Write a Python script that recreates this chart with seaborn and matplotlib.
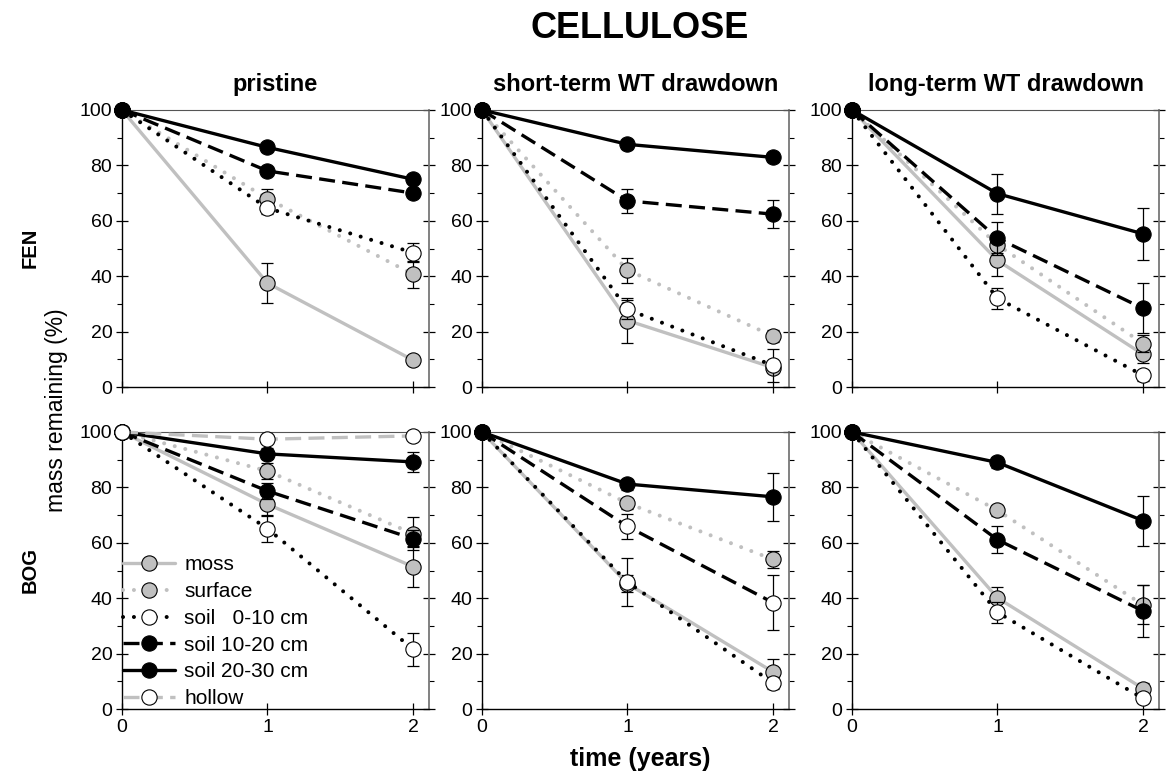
import numpy as np
import pandas as pd
import matplotlib
matplotlib.use("Agg")
import matplotlib.pyplot as plt
from matplotlib.lines import Line2D
from matplotlib.ticker import MultipleLocator
import seaborn as sns

# ---------------- data ----------------
years = [0, 1, 2]
series_names = ["moss", "surface", "soil   0-10 cm", "soil 10-20 cm", "soil 20-30 cm", "hollow"]
site_names = ["FEN", "BOG"]
treatments = ["pristine", "short-term WT drawdown", "long-term WT drawdown"]

# FEN pristine
fen_pri_moss = [100, 37.5, 9.7];    fen_pri_moss_se = [0, 7.2, 1.5]
fen_pri_surf = [100, 68.0, 40.7];   fen_pri_surf_se = [0, 3.3, 4.8]
fen_pri_s010 = [100, 64.6, 48.5];   fen_pri_s010_se = [0, 2.0, 3.5]
fen_pri_s1020 = [100, 78.0, 70.0];  fen_pri_s1020_se = [0, 1.5, 1.5]
fen_pri_s2030 = [100, 86.5, 75.0];  fen_pri_s2030_se = [0, 1.5, 1.5]
# FEN short-term drawdown
fen_st_moss = [100, 24.0, 7.0];     fen_st_moss_se = [0, 8.0, 2.0]
fen_st_surf = [100, 42.2, 18.4];    fen_st_surf_se = [0, 4.5, 2.0]
fen_st_s010 = [100, 28.0, 7.8];     fen_st_s010_se = [0, 3.3, 6.0]
fen_st_s1020 = [100, 67.2, 62.4];   fen_st_s1020_se = [0, 4.3, 5.0]
fen_st_s2030 = [100, 87.6, 82.9];   fen_st_s2030_se = [0, 1.5, 1.5]
# FEN long-term drawdown
fen_lt_moss = [100, 45.7, 11.8];    fen_lt_moss_se = [0, 5.5, 3.0]
fen_lt_surf = [100, 51.3, 15.7];    fen_lt_surf_se = [0, 3.0, 3.0]
fen_lt_s010 = [100, 32.0, 4.2];     fen_lt_s010_se = [0, 3.7, 2.0]
fen_lt_s1020 = [100, 53.7, 28.4];   fen_lt_s1020_se = [0, 6.0, 9.0]
fen_lt_s2030 = [100, 69.8, 55.3];   fen_lt_s2030_se = [0, 7.2, 9.4]
# BOG pristine
bog_pri_moss = [100, 73.9, 51.4];   bog_pri_moss_se = [0, 4.0, 7.3]
bog_pri_surf = [100, 85.9, 63.3];   bog_pri_surf_se = [0, 3.0, 6.0]
bog_pri_s010 = [100, 65.1, 21.6];   bog_pri_s010_se = [0, 4.7, 6.0]
bog_pri_s1020 = [100, 78.7, 61.5];  bog_pri_s1020_se = [0, 3.0, 3.0]
bog_pri_s2030 = [100, 92.1, 89.2];  bog_pri_s2030_se = [0, 2.0, 3.5]
bog_pri_hollow = [100, 97.4, 98.6]; bog_pri_hollow_se = [0, 1.0, 1.0]
# BOG short-term drawdown
bog_st_moss = [100, 45.2, 13.4];    bog_st_moss_se = [0, 3.0, 4.8]
bog_st_surf = [100, 74.3, 54.0];    bog_st_surf_se = [0, 2.0, 3.0]
bog_st_s010 = [100, 45.8, 9.4];     bog_st_s010_se = [0, 8.6, 2.0]
bog_st_s1020 = [100, 65.9, 38.4];   bog_st_s1020_se = [0, 4.6, 9.8]
bog_st_s2030 = [100, 81.2, 76.6];   bog_st_s2030_se = [0, 2.0, 8.7]
# BOG long-term drawdown
bog_lt_moss = [100, 40.1, 7.4];     bog_lt_moss_se = [0, 4.0, 2.0]
bog_lt_surf = [100, 71.7, 37.6];    bog_lt_surf_se = [0, 2.0, 7.0]
bog_lt_s010 = [100, 34.9, 3.8];     bog_lt_s010_se = [0, 3.7, 1.5]
bog_lt_s1020 = [100, 61.1, 35.4];   bog_lt_s1020_se = [0, 4.8, 9.3]
bog_lt_s2030 = [100, 89.0, 68.0];   bog_lt_s2030_se = [0, 2.0, 9.0]

panels = {
    (0, 0): [fen_pri_moss, fen_pri_surf, fen_pri_s010, fen_pri_s1020, fen_pri_s2030, None],
    (0, 1): [fen_st_moss, fen_st_surf, fen_st_s010, fen_st_s1020, fen_st_s2030, None],
    (0, 2): [fen_lt_moss, fen_lt_surf, fen_lt_s010, fen_lt_s1020, fen_lt_s2030, None],
    (1, 0): [bog_pri_moss, bog_pri_surf, bog_pri_s010, bog_pri_s1020, bog_pri_s2030, bog_pri_hollow],
    (1, 1): [bog_st_moss, bog_st_surf, bog_st_s010, bog_st_s1020, bog_st_s2030, None],
    (1, 2): [bog_lt_moss, bog_lt_surf, bog_lt_s010, bog_lt_s1020, bog_lt_s2030, None],
}
panels_se = {
    (0, 0): [fen_pri_moss_se, fen_pri_surf_se, fen_pri_s010_se, fen_pri_s1020_se, fen_pri_s2030_se, None],
    (0, 1): [fen_st_moss_se, fen_st_surf_se, fen_st_s010_se, fen_st_s1020_se, fen_st_s2030_se, None],
    (0, 2): [fen_lt_moss_se, fen_lt_surf_se, fen_lt_s010_se, fen_lt_s1020_se, fen_lt_s2030_se, None],
    (1, 0): [bog_pri_moss_se, bog_pri_surf_se, bog_pri_s010_se, bog_pri_s1020_se, bog_pri_s2030_se, bog_pri_hollow_se],
    (1, 1): [bog_st_moss_se, bog_st_surf_se, bog_st_s010_se, bog_st_s1020_se, bog_st_s2030_se, None],
    (1, 2): [bog_lt_moss_se, bog_lt_surf_se, bog_lt_s010_se, bog_lt_s1020_se, bog_lt_s2030_se, None],
}

# ---------------- styles ----------------
GRAY = "#c0c0c0"
LW = 2.4
DOT = dict(dashes=(0.01, 2.7), dash_capstyle="round", linewidth=2.9)
DASH = dict(dashes=(4.8, 2.2), dash_capstyle="butt", linewidth=LW)
SOLID = dict(linestyle="-", linewidth=LW)
styles = [
    dict(color=GRAY, fill=GRAY, ls=SOLID),
    dict(color=GRAY, fill=GRAY, ls=DOT),
    dict(color="black", fill="white", ls=DOT),
    dict(color="black", fill="black", ls=DASH),
    dict(color="black", fill="black", ls=SOLID),
    dict(color=GRAY, fill="white", ls=DASH),
]
fill_override = {((1, 1), 3): "white"}

sns.set_theme(style="ticks")
plt.rcParams["font.family"] = ["Liberation Sans", "DejaVu Sans"]
for key in ["text.color", "axes.labelcolor", "xtick.color", "ytick.color", "axes.edgecolor"]:
    plt.rcParams[key] = "black"

W, H = 1168, 778
fig = plt.figure(figsize=(W / 100, H / 100), dpi=100)

col_left = [122, 482, 852]
row_top = [110, 432]
ax_w, ax_h = 307, 277

FS = 14
for (r, c), series in panels.items():
    l = col_left[c]
    t = row_top[r]
    ax = fig.add_axes([l / W, 1 - (t + ax_h) / H, ax_w / W, ax_h / H])
    handles = []
    for i, vals in enumerate(series):
        if vals is None:
            continue
        st = styles[i]
        fc = fill_override.get(((r, c), i), st["fill"])
        se = panels_se[(r, c)][i]
        ax.errorbar(years, vals, yerr=se, fmt="none", ecolor="black",
                    elinewidth=0.9, capsize=4, capthick=0.9, zorder=2 + i * 2,
                    clip_on=False)
        df = pd.DataFrame({"year": years, "mass": vals})
        sns.lineplot(data=df, x="year", y="mass", ax=ax, color=st["color"],
                     marker="o", markersize=11,
                     markerfacecolor=fc, markeredgecolor="black",
                     markeredgewidth=0.8, clip_on=False, zorder=3 + i * 2,
                     legend=False, **st["ls"])
        handles.append(Line2D([0], [0], color=st["color"],
                              marker="o", markersize=11, markerfacecolor=st["fill"],
                              markeredgecolor="black", markeredgewidth=0.8,
                              label=series_names[i], **st["ls"]))
    ax.set_xlim(0, 2.11)
    ax.set_ylim(0, 100)
    ax.set_xticks(years)
    ax.set_yticks(np.arange(0, 101, 20))
    ax.yaxis.set_minor_locator(MultipleLocator(10))
    ax.set_xlabel("")
    ax.set_ylabel("")
    ax.tick_params(axis="both", which="major", direction="inout", length=8,
                   width=0.9, labelsize=FS, color="black", labelcolor="black", pad=3)
    ax.tick_params(axis="y", which="minor", direction="out", length=3.5, width=0.8)
    ax.tick_params(axis="y", which="both", right=True, left=True)
    ax.tick_params(axis="y", which="both", labelright=False)
    if r == 0:
        ax.tick_params(axis="x", labelbottom=False)
        ax.set_title(treatments[c], fontsize=17, fontweight="bold", pad=14,
                     color="black")
    for side in ["left", "bottom"]:
        ax.spines[side].set_color("black")
        ax.spines[side].set_linewidth(1.0)
    ax.spines["top"].set_color("#555555")
    ax.spines["top"].set_linewidth(0.8)
    ax.spines["right"].set_color("#777777")
    ax.spines["right"].set_linewidth(1.3)
    ax.grid(False)
    if (r, c) == (1, 0):
        ax.legend(handles=handles, loc="lower left", frameon=False,
                  fontsize=15, handlelength=2.5, handletextpad=0.45,
                  labelspacing=0.37, borderaxespad=0.0, borderpad=0.05,
                  bbox_to_anchor=(0.0, 0.0))

fig.text(640 / W, 1 - 28 / H, "CELLULOSE", ha="center", va="center",
         fontsize=26, fontweight="bold")
fig.text(30 / W, 1 - 248 / H, site_names[0], ha="center", va="center",
         rotation=90, fontsize=14.5, fontweight="bold")
fig.text(30 / W, 1 - 570 / H, site_names[1], ha="center", va="center",
         rotation=90, fontsize=14.5, fontweight="bold")
fig.text(56 / W, 1 - 410 / H, "mass remaining (%)", ha="center", va="center",
         rotation=90, fontsize=16.5)
fig.text(640 / W, 1 - 759 / H, "time (years)", ha="center", va="center",
         fontsize=18, fontweight="bold")

fig.savefig("out.png", dpi=100)
